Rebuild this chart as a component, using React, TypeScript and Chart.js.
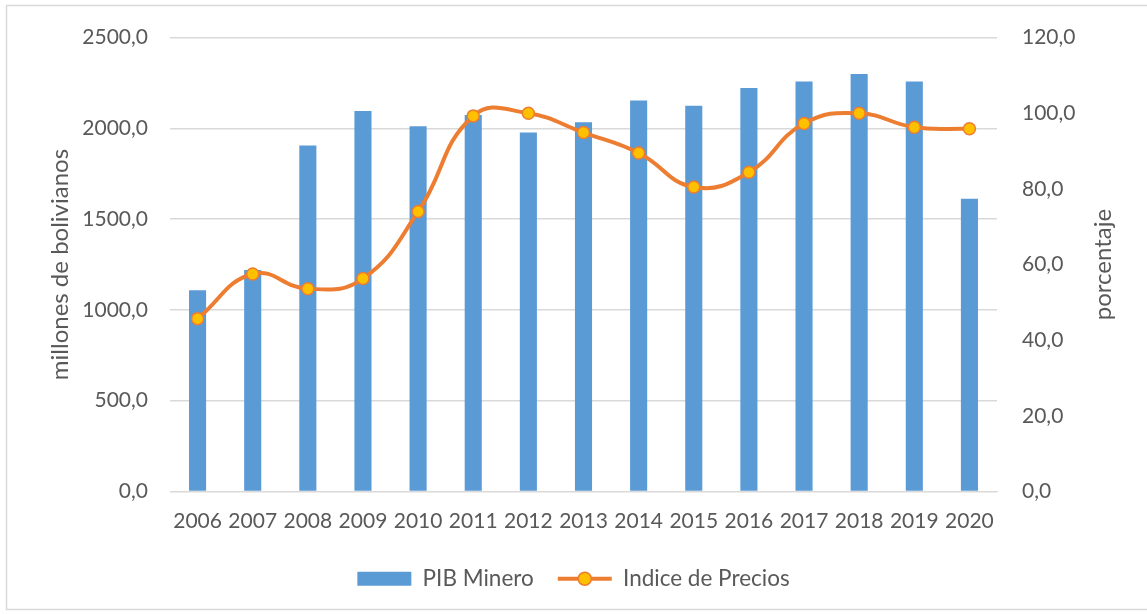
import React, { useEffect, useRef } from "react";
import { Chart, registerables } from "chart.js";

Chart.register(...registerables);

const years = ["2006", "2007", "2008", "2009", "2010", "2011", "2012", "2013", "2014", "2015", "2016", "2017", "2018", "2019", "2020"];
const pibMinero = [1108, 1220, 1906, 2096, 2012, 2074, 1977, 2034, 2154, 2125, 2223, 2258, 2300, 2258, 1613];
const indicePrecios = [45.7, 57.5, 53.6, 56.3, 74.0, 99.3, 100.0, 94.9, 89.5, 80.5, 84.4, 97.3, 100.0, 96.3, 95.9];
const leftAxisTitle = "millones de bolivianos";
const rightAxisTitle = "porcentaje";
const barLabel = "PIB Minero";
const lineLabel = "Indice de Precios";

const FONT = "Lato, 'Open Sans', sans-serif";
const TEXT = "#595959";
const BLUE = "#5B9BD5";
const ORANGE = "#ED7D31";
const YELLOW = "#FFC000";
const GRID = "#D9D9D9";
const LEGEND_BOX = 54;
const LEGEND_FONT = 22.5;

const fmt = (v: number) => Number(v).toFixed(1).replace(".", ",");

export default function App() {
  const ref = useRef<HTMLCanvasElement | null>(null);

  useEffect(() => {
    if (!ref.current) return;

    const framePlugin = {
      id: "frame",
      beforeDraw(chart: any) {
        const ctx = chart.ctx;
        ctx.save();
        ctx.fillStyle = "#ffffff";
        ctx.fillRect(0, 0, chart.width, chart.height);
        ctx.strokeStyle = GRID;
        ctx.lineWidth = 1.5;
        ctx.strokeRect(6.5, 5.5, chart.width, chart.height - 10);
        ctx.restore();
      },
      afterDraw(chart: any) {
        const ctx = chart.ctx;
        const area = chart.chartArea;
        // right axis title (rotated bottom-to-top)
        ctx.save();
        ctx.fillStyle = TEXT;
        ctx.font = `24px ${FONT}`;
        ctx.textAlign = "center";
        ctx.textBaseline = "middle";
        ctx.translate(1103, (area.top + area.bottom) / 2);
        ctx.rotate(-Math.PI / 2);
        ctx.fillText(rightAxisTitle, 0, 0);
        ctx.restore();
        // legend marker for the line series
        const lg = chart.legend;
        if (lg && lg.legendHitBoxes && lg.legendItems) {
          const idx = lg.legendItems.findIndex((it: any) => it.datasetIndex === 1);
          const hb = lg.legendHitBoxes[idx];
          if (hb) {
            const cx = hb.left + LEGEND_BOX / 2;
            const cy = hb.top + LEGEND_FONT / 2;
            ctx.save();
            ctx.beginPath();
            ctx.arc(cx, cy, 6.5, 0, Math.PI * 2);
            ctx.fillStyle = YELLOW;
            ctx.fill();
            ctx.lineWidth = 1.5;
            ctx.strokeStyle = ORANGE;
            ctx.stroke();
            ctx.restore();
          }
        }
      },
    };

    const chart = new Chart(ref.current, {
      type: "bar",
      data: {
        labels: years,
        datasets: [
          {
            type: "bar",
            label: barLabel,
            data: pibMinero,
            backgroundColor: BLUE,
            borderWidth: 0,
            barPercentage: 0.31,
            categoryPercentage: 1,
            yAxisID: "y",
            order: 2,
          },
          {
            type: "line",
            label: lineLabel,
            data: indicePrecios,
            borderColor: ORANGE,
            borderWidth: 4,
            tension: 0.45,
            pointRadius: 6,
            pointBackgroundColor: YELLOW,
            pointBorderColor: ORANGE,
            pointBorderWidth: 1.5,
            yAxisID: "y1",
            order: 1,
          },
        ],
      },
      options: {
        responsive: false,
        animation: false,
        layout: { padding: { top: 34, bottom: 14, left: 0, right: 0 } },
        plugins: {
          tooltip: { enabled: false },
          legend: {
            position: "bottom",
            labels: {
              font: { family: FONT, size: LEGEND_FONT },
              color: TEXT,
              boxWidth: LEGEND_BOX,
              boxHeight: 14,
              usePointStyle: true,
              pointStyleWidth: LEGEND_BOX,
              padding: 24,
              sort: (a: any, b: any) => a.datasetIndex - b.datasetIndex,
              generateLabels(chart: any) {
                const items = Chart.defaults.plugins.legend.labels.generateLabels(chart);
                return items.map((it: any) => {
                  if (it.datasetIndex === 0) {
                    return { ...it, pointStyle: "rect", fillStyle: BLUE, strokeStyle: BLUE, lineWidth: 0 };
                  }
                  return { ...it, pointStyle: "line", fillStyle: ORANGE, strokeStyle: ORANGE, lineWidth: 4 };
                });
              },
            },
          },
        },
        scales: {
          x: {
            grid: { display: false, drawTicks: false },
            border: { display: true, color: GRID, width: 1 },
            ticks: {
              font: { family: FONT, size: 21 },
              color: TEXT,
              maxRotation: 0,
              autoSkip: false,
              padding: 17,
            },
            afterFit(scale: any) {
              scale.height = 52;
            },
          },
          y: {
            position: "left",
            min: 0,
            max: 2500,
            grid: { color: GRID, lineWidth: 1.5, drawTicks: false },
            border: { display: false },
            ticks: {
              stepSize: 500,
              font: { family: FONT, size: 21 },
              color: TEXT,
              padding: 22,
              callback: (v: any) => fmt(v),
            },
            title: {
              display: true,
              text: leftAxisTitle,
              font: { family: FONT, size: 24 },
              color: TEXT,
              padding: { top: 46, bottom: 0 },
            },
            afterFit(scale: any) {
              scale.width = 170;
            },
          },
          y1: {
            position: "right",
            min: 0,
            max: 120,
            grid: { display: false, drawTicks: false },
            border: { display: false },
            ticks: {
              stepSize: 20,
              font: { family: FONT, size: 21 },
              color: TEXT,
              padding: 25,
              callback: (v: any) => fmt(v),
            },
            afterFit(scale: any) {
              scale.width = 150;
            },
          },
        },
      },
      plugins: [framePlugin],
    } as any);

    return () => chart.destroy();
  }, []);

  return (
    <div style={{ position: "absolute", left: 0, top: 0, width: 1147, height: 614, background: "#fff" }}>
      <canvas ref={ref} width={1147} height={614} style={{ width: 1147, height: 614, display: "block" }} />
    </div>
  );
}
